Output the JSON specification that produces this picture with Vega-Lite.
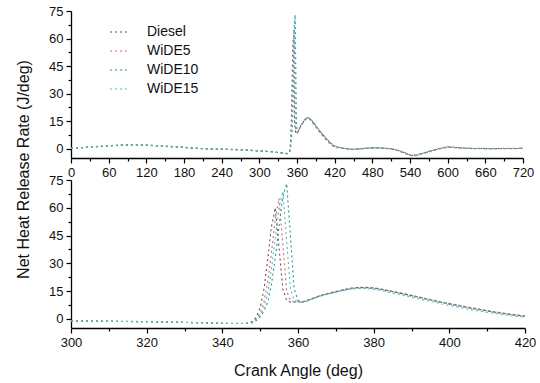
{
  "$schema": "https://vega.github.io/schema/vega-lite/v6.json",
  "padding": {"left": 15, "top": 5, "right": 5, "bottom": 5},
  "background": "white",
  "config": {
    "view": {"stroke": null},
    "font": "Liberation Sans",
    "axis": {
      "domainColor": "#000",
      "domainWidth": 1.3,
      "tickColor": "#000",
      "tickWidth": 1.2,
      "labelFont": "Liberation Sans",
      "labelFontSize": 13,
      "labelColor": "#111",
      "labelPadding": 3,
      "titleFont": "Liberation Sans",
      "titleFontSize": 16,
      "titleFontWeight": "normal",
      "titleColor": "#111",
      "grid": false
    },
    "concat": {"spacing": 22}
  },
  "datasets": {
    "hrr": [
      {"a": 0, "Diesel": 0.3, "WiDE5": 0.4, "WiDE10": 0.2, "WiDE15": 0.3},
      {"a": 10, "Diesel": 0.5, "WiDE5": 0.6, "WiDE10": 0.4, "WiDE15": 0.5},
      {"a": 20, "Diesel": 0.7, "WiDE5": 0.8, "WiDE10": 0.6, "WiDE15": 0.7},
      {"a": 30, "Diesel": 1.0, "WiDE5": 1.1, "WiDE10": 0.9, "WiDE15": 1.0},
      {"a": 40, "Diesel": 1.2, "WiDE5": 1.3, "WiDE10": 1.1, "WiDE15": 1.2},
      {"a": 50, "Diesel": 1.4, "WiDE5": 1.5, "WiDE10": 1.3, "WiDE15": 1.4},
      {"a": 60, "Diesel": 1.6, "WiDE5": 1.7, "WiDE10": 1.5, "WiDE15": 1.6},
      {"a": 70, "Diesel": 1.8, "WiDE5": 1.9, "WiDE10": 1.7, "WiDE15": 1.8},
      {"a": 80, "Diesel": 2.0, "WiDE5": 2.1, "WiDE10": 1.9, "WiDE15": 2.0},
      {"a": 90, "Diesel": 2.1, "WiDE5": 2.2, "WiDE10": 2.0, "WiDE15": 2.1},
      {"a": 100, "Diesel": 2.2, "WiDE5": 2.3, "WiDE10": 2.1, "WiDE15": 2.2},
      {"a": 110, "Diesel": 2.1, "WiDE5": 2.2, "WiDE10": 2.0, "WiDE15": 2.1},
      {"a": 120, "Diesel": 2.0, "WiDE5": 2.1, "WiDE10": 1.9, "WiDE15": 2.0},
      {"a": 130, "Diesel": 1.8, "WiDE5": 1.9, "WiDE10": 1.7, "WiDE15": 1.8},
      {"a": 140, "Diesel": 1.6, "WiDE5": 1.7, "WiDE10": 1.5, "WiDE15": 1.6},
      {"a": 150, "Diesel": 1.4, "WiDE5": 1.5, "WiDE10": 1.3, "WiDE15": 1.4},
      {"a": 160, "Diesel": 1.2, "WiDE5": 1.3, "WiDE10": 1.1, "WiDE15": 1.2},
      {"a": 170, "Diesel": 1.0, "WiDE5": 1.1, "WiDE10": 0.9, "WiDE15": 1.0},
      {"a": 180, "Diesel": 0.8, "WiDE5": 0.9, "WiDE10": 0.7, "WiDE15": 0.8},
      {"a": 190, "Diesel": 0.5, "WiDE5": 0.6, "WiDE10": 0.4, "WiDE15": 0.5},
      {"a": 200, "Diesel": 0.3, "WiDE5": 0.4, "WiDE10": 0.2, "WiDE15": 0.3},
      {"a": 210, "Diesel": 0.1, "WiDE5": 0.2, "WiDE10": 0.0, "WiDE15": 0.1},
      {"a": 220, "Diesel": 0.0, "WiDE5": 0.1, "WiDE10": -0.1, "WiDE15": 0.0},
      {"a": 230, "Diesel": -0.1, "WiDE5": 0.0, "WiDE10": -0.2, "WiDE15": -0.1},
      {"a": 240, "Diesel": -0.2, "WiDE5": -0.1, "WiDE10": -0.3, "WiDE15": -0.2},
      {"a": 250, "Diesel": -0.3, "WiDE5": -0.2, "WiDE10": -0.4, "WiDE15": -0.3},
      {"a": 260, "Diesel": -0.4, "WiDE5": -0.3, "WiDE10": -0.5, "WiDE15": -0.4},
      {"a": 270, "Diesel": -0.5, "WiDE5": -0.4, "WiDE10": -0.6, "WiDE15": -0.5},
      {"a": 280, "Diesel": -0.7, "WiDE5": -0.6, "WiDE10": -0.8, "WiDE15": -0.7},
      {"a": 290, "Diesel": -0.9, "WiDE5": -0.8, "WiDE10": -1.0, "WiDE15": -0.9},
      {"a": 300, "Diesel": -1.2, "WiDE5": -1.1, "WiDE10": -1.2, "WiDE15": -1.2},
      {"a": 305, "Diesel": -1.3, "WiDE5": -1.2, "WiDE10": -1.3, "WiDE15": -1.3},
      {"a": 310, "Diesel": -1.4, "WiDE5": -1.3, "WiDE10": -1.4, "WiDE15": -1.4},
      {"a": 315, "Diesel": -1.5, "WiDE5": -1.4, "WiDE10": -1.5, "WiDE15": -1.5},
      {"a": 320, "Diesel": -1.6, "WiDE5": -1.5, "WiDE10": -1.6, "WiDE15": -1.6},
      {"a": 325, "Diesel": -1.8, "WiDE5": -1.7, "WiDE10": -1.8, "WiDE15": -1.8},
      {"a": 330, "Diesel": -2.0, "WiDE5": -1.9, "WiDE10": -2.0, "WiDE15": -2.0},
      {"a": 335, "Diesel": -2.2, "WiDE5": -2.1, "WiDE10": -2.2, "WiDE15": -2.2},
      {"a": 340, "Diesel": -2.5, "WiDE5": -2.4, "WiDE10": -2.5, "WiDE15": -2.5},
      {"a": 345, "Diesel": -2.6, "WiDE5": -2.5, "WiDE10": -2.6, "WiDE15": -2.6},
      {"a": 346, "Diesel": -2.5, "WiDE5": -2.5, "WiDE10": -2.6, "WiDE15": -2.6},
      {"a": 347, "Diesel": -2.2, "WiDE5": -2.3, "WiDE10": -2.5, "WiDE15": -2.4},
      {"a": 348, "Diesel": -1.5, "WiDE5": -1.8, "WiDE10": -2.2, "WiDE15": -2.0},
      {"a": 349, "Diesel": 1.0, "WiDE5": 0.0, "WiDE10": -1.0, "WiDE15": -0.5},
      {"a": 350, "Diesel": 6, "WiDE5": 3, "WiDE10": 1, "WiDE15": 2},
      {"a": 351, "Diesel": 16, "WiDE5": 9, "WiDE10": 4, "WiDE15": 6},
      {"a": 352, "Diesel": 32, "WiDE5": 20, "WiDE10": 9, "WiDE15": 14},
      {"a": 353, "Diesel": 50, "WiDE5": 36, "WiDE10": 19, "WiDE15": 27},
      {"a": 354, "Diesel": 60, "WiDE5": 54, "WiDE10": 33, "WiDE15": 44},
      {"a": 355, "Diesel": 38, "WiDE5": 65, "WiDE10": 50, "WiDE15": 60},
      {"a": 356, "Diesel": 16, "WiDE5": 40, "WiDE10": 66, "WiDE15": 69},
      {"a": 357, "Diesel": 10, "WiDE5": 15, "WiDE10": 73, "WiDE15": 42},
      {"a": 358, "Diesel": 9, "WiDE5": 10, "WiDE10": 45, "WiDE15": 16},
      {"a": 359, "Diesel": 9, "WiDE5": 9, "WiDE10": 16, "WiDE15": 10},
      {"a": 360, "Diesel": 9.2, "WiDE5": 9.2, "WiDE10": 10, "WiDE15": 9.3},
      {"a": 361, "Diesel": 9.0, "WiDE5": 9.1, "WiDE10": 8.8, "WiDE15": 8.9},
      {"a": 362, "Diesel": 9.6, "WiDE5": 9.7, "WiDE10": 9.3, "WiDE15": 9.4},
      {"a": 364, "Diesel": 11.1, "WiDE5": 11.2, "WiDE10": 10.8, "WiDE15": 10.9},
      {"a": 366, "Diesel": 12.6, "WiDE5": 12.7, "WiDE10": 12.3, "WiDE15": 12.4},
      {"a": 368, "Diesel": 13.6, "WiDE5": 13.8, "WiDE10": 13.4, "WiDE15": 13.4},
      {"a": 370, "Diesel": 14.6, "WiDE5": 14.8, "WiDE10": 14.4, "WiDE15": 14.3},
      {"a": 372, "Diesel": 15.6, "WiDE5": 15.8, "WiDE10": 15.4, "WiDE15": 15.2},
      {"a": 374, "Diesel": 16.4, "WiDE5": 16.6, "WiDE10": 16.2, "WiDE15": 16.0},
      {"a": 376, "Diesel": 16.9, "WiDE5": 17.0, "WiDE10": 16.7, "WiDE15": 16.4},
      {"a": 378, "Diesel": 16.9, "WiDE5": 17.0, "WiDE10": 16.7, "WiDE15": 16.3},
      {"a": 380, "Diesel": 16.6, "WiDE5": 16.7, "WiDE10": 16.4, "WiDE15": 15.9},
      {"a": 382, "Diesel": 15.9, "WiDE5": 16.1, "WiDE10": 15.7, "WiDE15": 15.2},
      {"a": 384, "Diesel": 15.1, "WiDE5": 15.3, "WiDE10": 14.9, "WiDE15": 14.3},
      {"a": 386, "Diesel": 14.3, "WiDE5": 14.5, "WiDE10": 14.1, "WiDE15": 13.4},
      {"a": 388, "Diesel": 13.4, "WiDE5": 13.6, "WiDE10": 13.2, "WiDE15": 12.5},
      {"a": 390, "Diesel": 12.5, "WiDE5": 12.7, "WiDE10": 12.3, "WiDE15": 11.6},
      {"a": 392, "Diesel": 11.6, "WiDE5": 11.8, "WiDE10": 11.4, "WiDE15": 10.7},
      {"a": 394, "Diesel": 10.7, "WiDE5": 10.9, "WiDE10": 10.5, "WiDE15": 9.8},
      {"a": 396, "Diesel": 9.8, "WiDE5": 10.0, "WiDE10": 9.6, "WiDE15": 8.9},
      {"a": 398, "Diesel": 8.9, "WiDE5": 9.1, "WiDE10": 8.7, "WiDE15": 8.0},
      {"a": 400, "Diesel": 8.1, "WiDE5": 8.3, "WiDE10": 7.9, "WiDE15": 7.2},
      {"a": 402, "Diesel": 7.3, "WiDE5": 7.5, "WiDE10": 7.1, "WiDE15": 6.4},
      {"a": 404, "Diesel": 6.5, "WiDE5": 6.7, "WiDE10": 6.3, "WiDE15": 5.6},
      {"a": 406, "Diesel": 5.7, "WiDE5": 5.9, "WiDE10": 5.5, "WiDE15": 4.8},
      {"a": 408, "Diesel": 5.0, "WiDE5": 5.2, "WiDE10": 4.8, "WiDE15": 4.1},
      {"a": 410, "Diesel": 4.3, "WiDE5": 4.5, "WiDE10": 4.1, "WiDE15": 3.4},
      {"a": 412, "Diesel": 3.6, "WiDE5": 3.8, "WiDE10": 3.4, "WiDE15": 2.8},
      {"a": 414, "Diesel": 3.0, "WiDE5": 3.2, "WiDE10": 2.8, "WiDE15": 2.2},
      {"a": 416, "Diesel": 2.4, "WiDE5": 2.6, "WiDE10": 2.2, "WiDE15": 1.7},
      {"a": 418, "Diesel": 1.9, "WiDE5": 2.1, "WiDE10": 1.7, "WiDE15": 1.2},
      {"a": 420, "Diesel": 1.4, "WiDE5": 1.6, "WiDE10": 1.2, "WiDE15": 0.8},
      {"a": 430, "Diesel": 0.5, "WiDE5": 0.6, "WiDE10": 0.4, "WiDE15": 0.3},
      {"a": 440, "Diesel": 0.0, "WiDE5": 0.1, "WiDE10": -0.1, "WiDE15": -0.1},
      {"a": 450, "Diesel": -0.3, "WiDE5": -0.2, "WiDE10": -0.4, "WiDE15": -0.3},
      {"a": 460, "Diesel": 0.0, "WiDE5": 0.1, "WiDE10": -0.1, "WiDE15": 0.0},
      {"a": 470, "Diesel": 0.3, "WiDE5": 0.4, "WiDE10": 0.2, "WiDE15": 0.3},
      {"a": 480, "Diesel": 0.5, "WiDE5": 0.6, "WiDE10": 0.4, "WiDE15": 0.5},
      {"a": 490, "Diesel": 0.5, "WiDE5": 0.6, "WiDE10": 0.4, "WiDE15": 0.5},
      {"a": 500, "Diesel": 0.3, "WiDE5": 0.4, "WiDE10": 0.2, "WiDE15": 0.3},
      {"a": 510, "Diesel": 0.0, "WiDE5": 0.1, "WiDE10": -0.1, "WiDE15": 0.0},
      {"a": 520, "Diesel": -0.8, "WiDE5": -0.7, "WiDE10": -0.9, "WiDE15": -0.8},
      {"a": 530, "Diesel": -2.0, "WiDE5": -1.8, "WiDE10": -2.2, "WiDE15": -2.0},
      {"a": 540, "Diesel": -3.5, "WiDE5": -3.3, "WiDE10": -3.7, "WiDE15": -3.5},
      {"a": 550, "Diesel": -3.5, "WiDE5": -3.3, "WiDE10": -3.7, "WiDE15": -3.5},
      {"a": 560, "Diesel": -2.5, "WiDE5": -2.3, "WiDE10": -2.7, "WiDE15": -2.5},
      {"a": 570, "Diesel": -1.5, "WiDE5": -1.3, "WiDE10": -1.7, "WiDE15": -1.5},
      {"a": 580, "Diesel": -0.5, "WiDE5": -0.3, "WiDE10": -0.7, "WiDE15": -0.5},
      {"a": 590, "Diesel": 0.3, "WiDE5": 0.5, "WiDE10": 0.1, "WiDE15": 0.3},
      {"a": 600, "Diesel": 1.0, "WiDE5": 1.2, "WiDE10": 0.8, "WiDE15": 1.0},
      {"a": 610, "Diesel": 0.8, "WiDE5": 1.0, "WiDE10": 0.6, "WiDE15": 0.8},
      {"a": 620, "Diesel": 0.5, "WiDE5": 0.6, "WiDE10": 0.4, "WiDE15": 0.5},
      {"a": 630, "Diesel": 0.3, "WiDE5": 0.4, "WiDE10": 0.2, "WiDE15": 0.3},
      {"a": 640, "Diesel": 0.2, "WiDE5": 0.3, "WiDE10": 0.1, "WiDE15": 0.2},
      {"a": 650, "Diesel": 0.2, "WiDE5": 0.3, "WiDE10": 0.1, "WiDE15": 0.2},
      {"a": 660, "Diesel": 0.1, "WiDE5": 0.2, "WiDE10": 0.0, "WiDE15": 0.1},
      {"a": 670, "Diesel": 0.1, "WiDE5": 0.2, "WiDE10": 0.0, "WiDE15": 0.1},
      {"a": 680, "Diesel": 0.1, "WiDE5": 0.2, "WiDE10": 0.0, "WiDE15": 0.1},
      {"a": 690, "Diesel": 0.2, "WiDE5": 0.3, "WiDE10": 0.1, "WiDE15": 0.2},
      {"a": 700, "Diesel": 0.2, "WiDE5": 0.3, "WiDE10": 0.1, "WiDE15": 0.2},
      {"a": 710, "Diesel": 0.2, "WiDE5": 0.3, "WiDE10": 0.1, "WiDE15": 0.2},
      {"a": 720, "Diesel": 0.3, "WiDE5": 0.4, "WiDE10": 0.2, "WiDE15": 0.3}
    ]
  },
  "vconcat": [
    {
      "width": 452,
      "height": 147,
      "data": {"name": "hrr"},
      "transform": [{"fold": ["Diesel", "WiDE5", "WiDE10", "WiDE15"], "as": ["fuel", "hrr"]}],
      "mark": {"type": "line", "strokeWidth": 1.1, "strokeDash": [2, 3], "clip": true},
      "encoding": {
        "x": {
          "field": "a", "type": "quantitative",
          "scale": {"domain": [0, 720], "nice": false, "zero": false},
          "axis": {
            "title": null,
            "values": [0, 30, 60, 90, 120, 150, 180, 210, 240, 270, 300, 330, 360, 390, 420, 450, 480, 510, 540, 570, 600, 630, 660, 690, 720],
            "labelExpr": "datum.value % 60 === 0 ? datum.label : ''",
            "tickSize": {"condition": {"test": "datum.value % 60 !== 0", "value": 3}, "value": 5},
            "labelFlush": false
          }
        },
        "y": {
          "field": "hrr", "type": "quantitative",
          "scale": {"domain": [-5, 75], "nice": false, "zero": false},
          "axis": {
            "title": "Net Heat Release Rate (J/deg)",
            "titleX": -48,
            "titleY": 158,
            "titleAngle": -90,
            "titleAlign": "center",
            "titleBaseline": "middle",
            "values": [0, 7.5, 15, 22.5, 30, 37.5, 45, 52.5, 60, 67.5, 75],
            "labelExpr": "datum.value % 15 === 0 ? datum.label : ''",
            "tickSize": {"condition": {"test": "datum.value % 15 !== 0", "value": 3}, "value": 5},
            "labelFlush": false
          }
        },
        "color": {
          "field": "fuel", "type": "nominal",
          "scale": {"domain": ["Diesel", "WiDE5", "WiDE10", "WiDE15"], "range": ["#555555", "#e0607a", "#2e8aa0", "#4cc0b0"]},
          "legend": {
            "title": null,
            "orient": "none",
            "legendX": 38,
            "legendY": 10,
            "symbolType": "stroke",
            "symbolSize": 400,
            "symbolStrokeWidth": 1.2,
            "symbolDash": [2, 3],
            "labelFont": "Liberation Sans",
            "labelFontSize": 14,
            "labelColor": "#111",
            "labelOffset": 16,
            "rowPadding": 1
          }
        }
      }
    },
    {
      "width": 454,
      "height": 148,
      "data": {"name": "hrr"},
      "transform": [
        {"filter": "datum.a >= 300 && datum.a <= 420"},
        {"fold": ["Diesel", "WiDE5", "WiDE10", "WiDE15"], "as": ["fuel", "hrr"]}
      ],
      "mark": {"type": "line", "strokeWidth": 1.1, "strokeDash": [2, 3], "clip": true},
      "encoding": {
        "x": {
          "field": "a", "type": "quantitative",
          "scale": {"domain": [300, 420], "nice": false, "zero": false},
          "axis": {
            "title": "Crank Angle (deg)",
            "titlePadding": 13,
            "values": [300, 310, 320, 330, 340, 350, 360, 370, 380, 390, 400, 410, 420],
            "labelExpr": "datum.value % 20 === 0 ? datum.label : ''",
            "tickSize": {"condition": {"test": "datum.value % 20 !== 0", "value": 3}, "value": 5},
            "labelFlush": false
          }
        },
        "y": {
          "field": "hrr", "type": "quantitative",
          "scale": {"domain": [-5, 75], "nice": false, "zero": false},
          "axis": {
            "title": null,
            "values": [0, 7.5, 15, 22.5, 30, 37.5, 45, 52.5, 60, 67.5, 75],
            "labelExpr": "datum.value % 15 === 0 ? datum.label : ''",
            "tickSize": {"condition": {"test": "datum.value % 15 !== 0", "value": 3}, "value": 5},
            "labelFlush": false
          }
        },
        "color": {
          "field": "fuel", "type": "nominal",
          "scale": {"domain": ["Diesel", "WiDE5", "WiDE10", "WiDE15"], "range": ["#555555", "#e0607a", "#2e8aa0", "#4cc0b0"]},
          "legend": null
        }
      }
    }
  ],
  "resolve": {"scale": {"x": "independent", "y": "independent"}, "legend": {"color": "independent"}},
  "spacing": 22,
  "bounds": "flush"
}
